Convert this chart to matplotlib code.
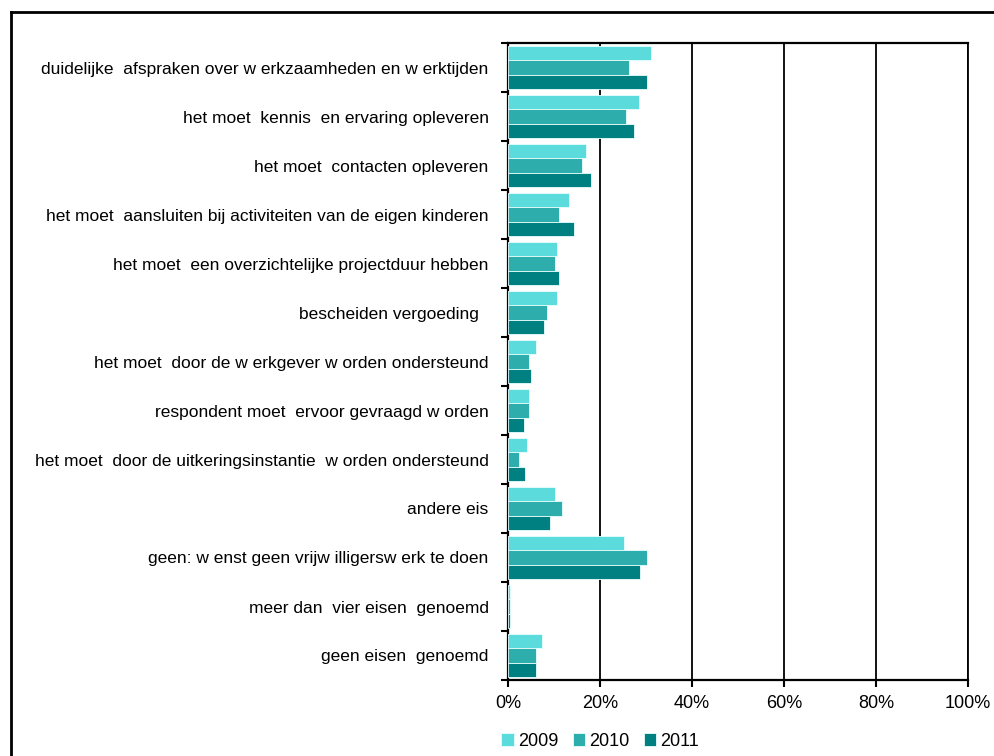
import matplotlib.pyplot as plt
import matplotlib.lines as mlines
import numpy as np

plt.rcParams['font.family'] = ['Liberation Sans', 'DejaVu Sans']

# answer categories (top to bottom) and shares per year in percent
categories = [
    'duidelijke  afspraken over w erkzaamheden en w erktijden',
    'het moet  kennis  en ervaring opleveren',
    'het moet  contacten opleveren',
    'het moet  aansluiten bij activiteiten van de eigen kinderen',
    'het moet  een overzichtelijke projectduur hebben',
    'bescheiden vergoeding  ',
    'het moet  door de w erkgever w orden ondersteund',
    'respondent moet  ervoor gevraagd w orden',
    'het moet  door de uitkeringsinstantie  w orden ondersteund',
    'andere eis',
    'geen: w enst geen vrijw illigersw erk te doen',
    'meer dan  vier eisen  genoemd',
    'geen eisen  genoemd',
]
years = ['2009', '2010', '2011']
values_2009 = [31.0, 28.5, 16.9, 13.2, 10.7, 10.7, 6.0, 4.5, 4.1, 10.3, 25.2, 0.5, 7.4]
values_2010 = [26.3, 25.6, 16.1, 11.0, 10.3, 8.5, 4.5, 4.5, 2.3, 11.7, 30.3, 0.4, 6.0]
values_2011 = [30.3, 27.4, 18.0, 14.3, 11.1, 7.8, 4.9, 3.4, 3.8, 9.2, 28.8, 0.5, 6.0]
colors = ['#5BDBDB', '#2EADAD', '#008080']

fig = plt.figure(figsize=(9.95, 7.56), dpi=100)
ax = fig.add_axes([508/995, 76/756, 460/995, 637/756])

y = np.arange(len(categories))
bar_h = 0.29
for i, (vals, col, lab) in enumerate(zip([values_2009, values_2010, values_2011], colors, years)):
    ax.barh(y + (i - 1) * bar_h, vals, height=bar_h, color=col, edgecolor='#E8FFFF',
            linewidth=0.6, label=lab, zorder=3)

ax.set_xlim(0, 100)
ax.set_ylim(len(categories) - 0.5, -0.5)

ax.set_xticks([0, 20, 40, 60, 80, 100])
ax.set_xticklabels(['0%', '20%', '40%', '60%', '80%', '100%'], fontsize=13)
ax.set_yticks(y)
ax.set_yticklabels(categories, fontsize=12.5)
ax.set_yticks(np.arange(len(categories) + 1) - 0.5, minor=True)
ax.tick_params(axis='y', which='major', length=0, pad=14)
ax.tick_params(axis='y', which='minor', length=5, width=1.5, direction='out')
ax.tick_params(axis='x', length=5, width=1.5, direction='out', pad=6)

ax.grid(axis='x', color='black', linewidth=1.3, zorder=1)
for s in ['left', 'bottom', 'top', 'right']:
    ax.spines[s].set_color('black')
    ax.spines[s].set_linewidth(1.6)
ax.spines['right'].set_linewidth(1.3)

fig.legend(loc='center', bbox_to_anchor=(600/995, 1 - 741/756), ncol=3, frameon=False,
           fontsize=13, handlelength=0.7, handleheight=0.7, handletextpad=0.2,
           columnspacing=0.8)

# outer chart frame (only top and left edges visible)
fig.add_artist(mlines.Line2D([11/995, 1], [1 - 12/756, 1 - 12/756], color='black', linewidth=2))
fig.add_artist(mlines.Line2D([11/995, 11/995], [0, 1 - 12/756], color='black', linewidth=2))

plt.savefig('out.png', facecolor='white')
